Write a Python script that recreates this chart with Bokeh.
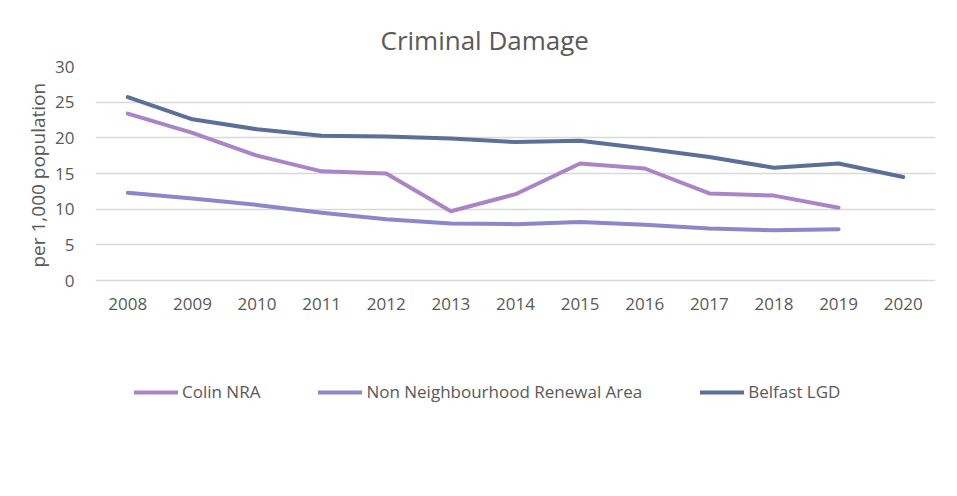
from bokeh.plotting import figure
from bokeh.models import Legend, LegendItem, FixedTicker, Title
from bokeh.embed import file_html
from bokeh.resources import INLINE

years = [2008, 2009, 2010, 2011, 2012, 2013, 2014, 2015, 2016, 2017, 2018, 2019, 2020]
colin_years = [2008, 2009, 2010, 2011, 2012, 2013, 2014, 2015, 2016, 2017, 2018, 2019]
colin_nra = [23.4, 20.7, 17.5, 15.3, 15.0, 9.7, 12.1, 16.4, 15.7, 12.2, 11.9, 10.2]
nnra_years = [2008, 2009, 2010, 2011, 2012, 2013, 2014, 2015, 2016, 2017, 2018, 2019]
non_nra = [12.3, 11.5, 10.6, 9.5, 8.6, 8.0, 7.9, 8.2, 7.8, 7.3, 7.05, 7.2]
belfast = [25.7, 22.6, 21.2, 20.3, 20.2, 19.9, 19.4, 19.6, 18.5, 17.3, 15.8, 16.4, 14.5]
y_ticks = [0, 5, 10, 15, 20, 25, 30]

FONT = "Open Sans"
TXT = "#595959"

# frame spans the plot plus the legend area below it; axis drawn at y = 0
FRAME_H = 395
PX_PER_UNIT = 214 / 30.0
y_bottom = -(FRAME_H - 214) / PX_PER_UNIT

p = figure(frame_width=840, frame_height=FRAME_H, output_backend="svg", toolbar_location=None,
           x_range=(2007.5, 2020.5), y_range=(y_bottom, 30),
           min_border_left=95, min_border_right=22, min_border_top=66, min_border_bottom=0)
p.outline_line_color = None
p.background_fill_color = "white"
p.border_fill_color = "white"

p.title.text = "Criminal Damage"
p.title.text_font = FONT
p.title.text_font_size = "26px"
p.title.text_font_style = "normal"
p.title.text_color = TXT
p.title.align = "left"
p.title.offset = 285
p.title.standoff = 17

r1 = p.line(colin_years, colin_nra, line_color="#AA84C6", line_width=4, line_cap="round", line_join="round")
r2 = p.line(nnra_years, non_nra, line_color="#8A87CA", line_width=4, line_cap="round", line_join="round")
r3 = p.line(years, belfast, line_color="#5B6F98", line_width=4, line_cap="round", line_join="round")

p.xaxis.ticker = FixedTicker(ticks=years)
p.yaxis.ticker = FixedTicker(ticks=y_ticks)
p.xaxis.fixed_location = 0
for ax in (p.xaxis, p.yaxis):
    ax.axis_line_color = None
    ax.major_tick_line_color = None
    ax.minor_tick_line_color = None
    ax.major_label_text_font = FONT
    ax.major_label_text_font_size = "17px"
    ax.major_label_text_color = TXT
p.xaxis.major_label_standoff = 11
p.yaxis.major_label_standoff = 15

ylabel = Title(text="per 1,000 population", text_font=FONT, text_font_size="19px",
               text_font_style="normal", text_color=TXT, align="left",
               offset=FRAME_H - 201, standoff=4)
p.add_layout(ylabel, "left")

p.xgrid.grid_line_color = None
p.ygrid.grid_line_color = "#D9D9D9"
p.ygrid.grid_line_width = 1.5

legend = Legend(items=[LegendItem(label="Colin NRA", renderers=[r1]),
                       LegendItem(label="Non Neighbourhood Renewal Area", renderers=[r2]),
                       LegendItem(label="Belfast LGD", renderers=[r3])],
                orientation="horizontal", location=(39, FRAME_H + 66 - 403),
                padding=0, margin=0, spacing=58, label_standoff=4,
                glyph_width=44, glyph_height=20, label_height=20,
                label_text_font=FONT, label_text_font_size="17px", label_text_color=TXT,
                border_line_color=None, background_fill_alpha=0)
p.add_layout(legend, "center")

open("out.html", "w").write(file_html(p, INLINE))
